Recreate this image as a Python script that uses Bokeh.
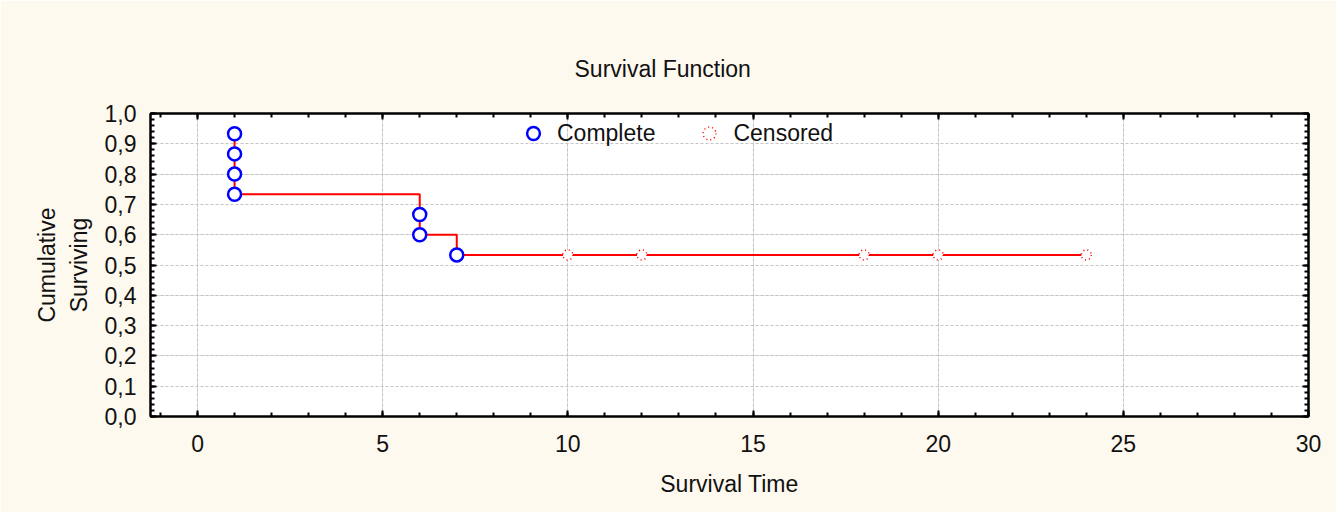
from bokeh.plotting import figure
from bokeh.models import (Range1d, LinearAxis, Legend, LegendItem, Grid,
                          CustomJSTickFormatter, SingleIntervalTicker, ColumnDataSource)
from bokeh.embed import file_html
from bokeh.resources import INLINE

# ---- data ----
complete_time = [1, 1, 1, 1, 6, 6, 7]
complete_surv = [0.9333, 0.8667, 0.8, 0.7333, 0.6667, 0.6, 0.5333]
censored_time = [10, 12, 18, 20, 24]
censored_surv = [0.5333, 0.5333, 0.5333, 0.5333, 0.5333]
title_text = "Survival Function"
x_label = "Survival Time"
y_label_lines = ["Cumulative", "Surviving"]
legend_labels = ["Complete", "Censored"]
x_ticks = [0, 5, 10, 15, 20, 25, 30]
y_ticks = [0.0, 0.1, 0.2, 0.3, 0.4, 0.5, 0.6, 0.7, 0.8, 0.9, 1.0]

FONT = "Liberation Sans"
FS = "23px"
CREAM = "#fef9ef"
TXT = "#111111"

all_time = complete_time + censored_time
all_surv = complete_surv + censored_surv

p = figure(width=1336, height=512, output_backend="svg", toolbar_location=None,
           x_range=Range1d(-1.27, 30.0), y_range=Range1d(0.0, 1.0),
           min_border_left=150, min_border_right=28, min_border_top=113,
           min_border_bottom=96, x_axis_location=None, y_axis_location=None)
p.background_fill_color = "white"
p.border_fill_color = CREAM
p.outline_line_color = "black"
p.outline_line_width = 2

p.title.text = title_text
p.title.align = "left"
p.title.offset = 424
p.title.standoff = 63
p.title.text_font = FONT
p.title.text_font_size = FS
p.title.text_font_style = "normal"
p.title.text_color = TXT

def style_axis(ax, interval, labels=True, minor=5):
    ax.ticker = SingleIntervalTicker(interval=interval, num_minor_ticks=minor)
    ax.axis_line_color = "black"
    ax.axis_line_width = 2
    ax.major_tick_in = 6
    ax.major_tick_out = 0
    ax.minor_tick_in = 4
    ax.minor_tick_out = 0
    ax.major_tick_line_width = 2
    ax.minor_tick_line_width = 2
    ax.major_tick_line_color = "black"
    ax.minor_tick_line_color = "black"
    ax.major_label_text_font = FONT
    ax.major_label_text_font_size = FS if labels else "0px"
    ax.major_label_text_color = TXT
    ax.axis_label_text_font = FONT
    ax.axis_label_text_font_size = FS
    ax.axis_label_text_font_style = "normal"
    ax.axis_label_text_color = TXT

x_step = x_ticks[1] - x_ticks[0]
y_step = round(y_ticks[1] - y_ticks[0], 3)

xb = LinearAxis(axis_label=x_label)
style_axis(xb, x_step)
xb.major_label_standoff = 18
xb.axis_label_standoff = 16
xt = LinearAxis()
style_axis(xt, x_step, labels=False)
xt.major_label_standoff = 0
yl = LinearAxis(axis_label="\n".join(y_label_lines))
style_axis(yl, y_step)
yl.major_label_standoff = 14
yl.axis_label_standoff = 10
yl.formatter = CustomJSTickFormatter(code="return tick.toFixed(1).replace('.', ',');")
yr = LinearAxis()
style_axis(yr, y_step, labels=False)
yr.major_label_standoff = 0
p.add_layout(xb, "below")
p.add_layout(xt, "above")
p.add_layout(yl, "left")
p.add_layout(yr, "right")

p.add_layout(Grid(dimension=0, ticker=SingleIntervalTicker(interval=x_step),
                  grid_line_color="#c4c4c4", grid_line_dash="3 2"))
p.add_layout(Grid(dimension=1, ticker=SingleIntervalTicker(interval=y_step),
                  grid_line_color="#c4c4c4", grid_line_dash="3 2"))

src_all = ColumnDataSource(dict(t=all_time, s=all_surv))
p.step("t", "s", source=src_all, mode="after", line_color="red", line_width=2)

cens = p.scatter(censored_time, censored_surv, marker="circle", size=10,
                 fill_color="white", line_color="red", line_width=1.5,
                 line_dash="1 3")
comp = p.scatter(complete_time, complete_surv, marker="circle", size=13,
                 fill_color="white", line_color="blue", line_width=2.5)

legend = Legend(items=[LegendItem(label=legend_labels[0], renderers=[comp]),
                       LegendItem(label=legend_labels[1], renderers=[cens])],
                orientation="horizontal", location=(367, 267),
                padding=0, margin=0, spacing=38, glyph_width=32, glyph_height=32,
                label_standoff=8, label_text_font=FONT,
                label_text_font_size=FS, label_text_color=TXT,
                border_line_alpha=0, background_fill_alpha=0)
p.add_layout(legend, "center")

open("out.html", "w").write(file_html(p, INLINE))
